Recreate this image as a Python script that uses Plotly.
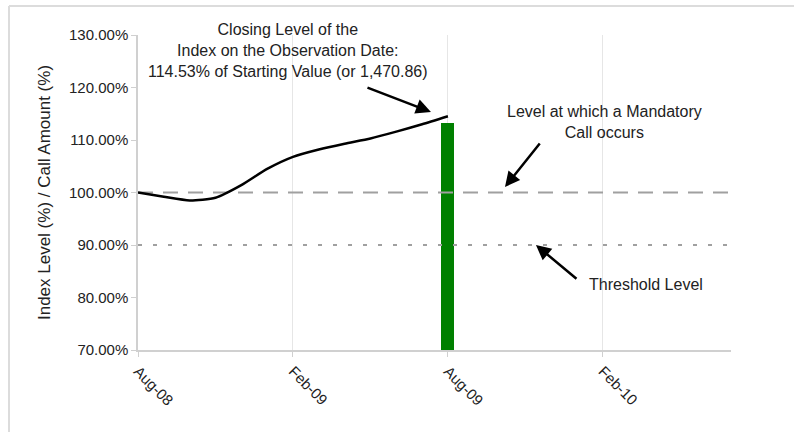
import plotly.graph_objects as go

# ---- data ----
months = ["Aug-08", "Sep-08", "Oct-08", "Nov-08", "Dec-08", "Jan-09", "Feb-09",
          "Mar-09", "Apr-09", "May-09", "Jun-09", "Jul-09", "Aug-09"]
index_level = [100.0, 99.2, 98.5, 99.0, 101.4, 104.5, 106.8,
               108.2, 109.3, 110.3, 111.6, 113.0, 114.53]
call_label = ["Aug-09"]
call_amount = [113.2]
call_level = 100.0
threshold_level = 90.0
tick_labels = ["Aug-08", "Feb-09", "Aug-09", "Feb-10"]
tick_month_idx = [0, 6, 12, 18]
y_ticks = [70, 80, 90, 100, 110, 120, 130]

x_idx = list(range(len(months)))
bar_idx = [months.index(c) for c in call_label]

FONT = "Arial, Liberation Sans, sans-serif"
X_MAX = 22.96

fig = go.Figure()

# reference lines
fig.add_trace(go.Scatter(x=[0, X_MAX], y=[call_level, call_level], mode="lines",
                         line=dict(color="#a0a0a0", width=2, dash="15px,10px"),
                         hoverinfo="skip", showlegend=False))
fig.add_trace(go.Scatter(x=[0, X_MAX], y=[threshold_level, threshold_level], mode="lines",
                         line=dict(color="#a0a0a0", width=2, dash="4px,11px"),
                         hoverinfo="skip", showlegend=False))

# call amount bar
fig.add_trace(go.Bar(x=bar_idx, y=call_amount, width=0.5, marker_color="#008000",
                     marker_line_width=0, showlegend=False))

# index level line
fig.add_trace(go.Scatter(x=x_idx, y=index_level, mode="lines",
                         line=dict(color="black", width=2.5, shape="spline", smoothing=0.6),
                         showlegend=False))

def px2x(px):
    return (px - 137) / 25.83

def py2y(py):
    return 130 - (py - 35) / 5.25

ann = []
# texts
ann.append(dict(x=px2x(287), y=py2y(50), xref="x", yref="y",
                text="Closing Level of the<br>Index on the Observation Date:<br>114.53% of Starting Value (or 1,470.86)",
                showarrow=False, font=dict(size=16, color="#222", family=FONT), align="center"))
ann.append(dict(x=px2x(604), y=py2y(122), xref="x", yref="y",
                text="Level at which a Mandatory<br>Call occurs",
                showarrow=False, font=dict(size=16, color="#222", family=FONT), align="center"))
ann.append(dict(x=px2x(645), y=py2y(284), xref="x", yref="y",
                text="Threshold Level",
                showarrow=False, font=dict(size=16, color="#222", family=FONT), align="center"))
# arrows
for (tx, ty, hx, hy) in [(365, 87, 430, 112), (540, 142, 504, 187), (577, 280, 535, 245)]:
    ann.append(dict(x=px2x(hx), y=py2y(hy), ax=px2x(tx), ay=py2y(ty),
                    xref="x", yref="y", axref="x", ayref="y", text="",
                    showarrow=True, arrowhead=2, arrowsize=1.2, arrowwidth=2.5,
                    arrowcolor="black", standoff=0))

fig.update_layout(
    width=794, height=436,
    margin=dict(l=138, r=63, t=35, b=86),
    paper_bgcolor="white", plot_bgcolor="white",
    font=dict(family=FONT, size=15, color="#222"),
    annotations=ann,
    bargap=0,
    shapes=[
        dict(type="line", xref="paper", yref="paper", x0=-0.2175, x1=1.11, y0=1.092, y1=1.092,
             line=dict(color="#dcdcdc", width=2)),
        dict(type="line", xref="paper", yref="paper", x0=-0.2175, x1=-0.2175, y0=1.092, y1=-0.26,
             line=dict(color="#dcdcdc", width=2)),
    ],
)

fig.update_xaxes(range=[0, X_MAX], tickmode="array", tickvals=tick_month_idx,
                 ticktext=tick_labels, tickangle=45, showgrid=True, gridcolor="#e6e6e6",
                 gridwidth=1, showline=True, linecolor="#d0d0d0", linewidth=1.5,
                 ticks="outside", ticklen=5, tickcolor="#d0d0d0",
                 tickfont=dict(size=15, color="#222"), zeroline=False)
fig.update_yaxes(range=[70, 130], tickmode="array", tickvals=y_ticks,
                 ticktext=[f"{v:.2f}%" for v in y_ticks], showgrid=False,
                 showline=True, linecolor="#d0d0d0", linewidth=1.5,
                 ticks="outside", ticklen=5, tickcolor="#d0d0d0",
                 tickfont=dict(size=15, color="#222"), zeroline=False,
                 title=dict(text="Index Level (%) / Call Amount (%)",
                            font=dict(size=17, color="#222"), standoff=14))

fig.write_html("out.html", config={"displayModeBar": False},
               post_script="document.body.style.margin='0px';document.body.style.padding='0px';")
